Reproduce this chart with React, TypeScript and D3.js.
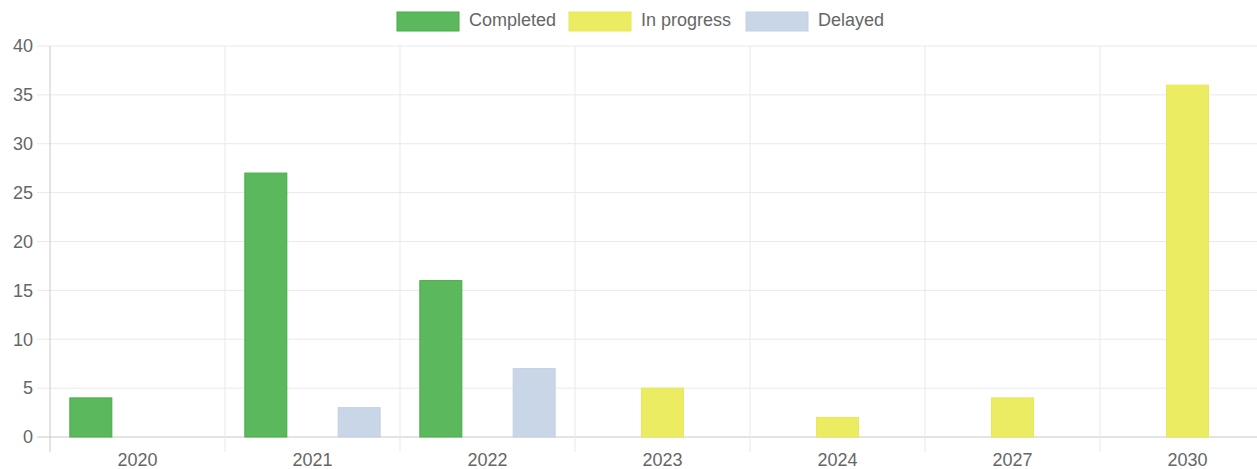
import React from "react";
import * as d3 from "d3";

const categories = ["2020", "2021", "2022", "2023", "2024", "2027", "2030"];
const seriesNames = ["Completed", "In progress", "Delayed"];
const completed = [4, 27, 16, 0, 0, 0, 0];
const inProgress = [0, 0, 0, 5, 2, 4, 36];
const delayed = [0, 3, 7, 0, 0, 0, 0];
const yTicks = [0, 5, 10, 15, 20, 25, 30, 35, 40];

const fills = ["#5cb85c", "#ecec62", "#c9d6e8"];
const strokes = ["#45ae45", "#e8e85a", "#c3d1e5"];

export default function App() {
  const W = 1257;
  const H = 469;
  const left = 50;
  const bandW = 175;
  const x = d3
    .scaleBand<string>()
    .domain(categories)
    .range([left, left + bandW * categories.length])
    .paddingInner(0)
    .paddingOuter(0);
  const y = d3.scaleLinear().domain([0, 40]).range([437, 46]);
  const inner = d3
    .scaleBand<string>()
    .domain(seriesNames)
    .range([0, x.bandwidth() * 0.8]);
  const offset = x.bandwidth() * 0.1;
  const barW = inner.bandwidth() * 0.9;
  const data = [completed, inProgress, delayed];
  const font = "'Liberation Sans', Arial, sans-serif";
  const legendX = [397, 569, 746];
  const gridColor = "#e9e9e9";

  return (
    <svg
      width={W}
      height={H}
      style={{ position: "absolute", left: 0, top: 0, background: "#fff" }}
      fontFamily={font}
    >
      {/* horizontal grid */}
      {yTicks.map((t) => (
        <g key={"h" + t}>
          <line
            x1={37}
            x2={W}
            y1={y(t)}
            y2={y(t)}
            stroke={t === 0 ? "#c8c8c8" : gridColor}
            strokeWidth={1}
          />
          <text
            x={33}
            y={y(t)}
            dy="0.35em"
            textAnchor="end"
            fontSize={18}
            fill="#666"
          >
            {t}
          </text>
        </g>
      ))}
      {/* vertical grid */}
      {categories.map((c, i) => (
        <line
          key={"v" + c}
          x1={x(c)!}
          x2={x(c)!}
          y1={46}
          y2={452}
          stroke={i === 0 ? "#c8c8c8" : gridColor}
          strokeWidth={1}
        />
      ))}
      {/* bars */}
      {categories.map((c, i) =>
        seriesNames.map((s, j) => {
          const v = data[j][i];
          if (!v) return null;
          const cx = x(c)! + offset + inner(s)! + inner.bandwidth() / 2;
          return (
            <rect
              key={c + s}
              x={cx - barW / 2}
              y={y(v)}
              width={barW}
              height={y(0) - y(v)}
              fill={fills[j]}
              stroke={strokes[j]}
              strokeWidth={1}
            />
          );
        })
      )}
      {/* x labels */}
      {categories.map((c) => (
        <text
          key={"l" + c}
          x={x(c)! + x.bandwidth() / 2}
          y={466}
          textAnchor="middle"
          fontSize={18}
          fill="#666"
        >
          {c}
        </text>
      ))}
      {/* legend */}
      {seriesNames.map((s, j) => (
        <g key={"lg" + s}>
          <rect
            x={legendX[j]}
            y={12}
            width={62}
            height={19}
            fill={fills[j]}
            stroke={strokes[j]}
            strokeWidth={1}
          />
          <text x={legendX[j] + 72} y={26} fontSize={18} fill="#666">
            {s}
          </text>
        </g>
      ))}
    </svg>
  );
}
